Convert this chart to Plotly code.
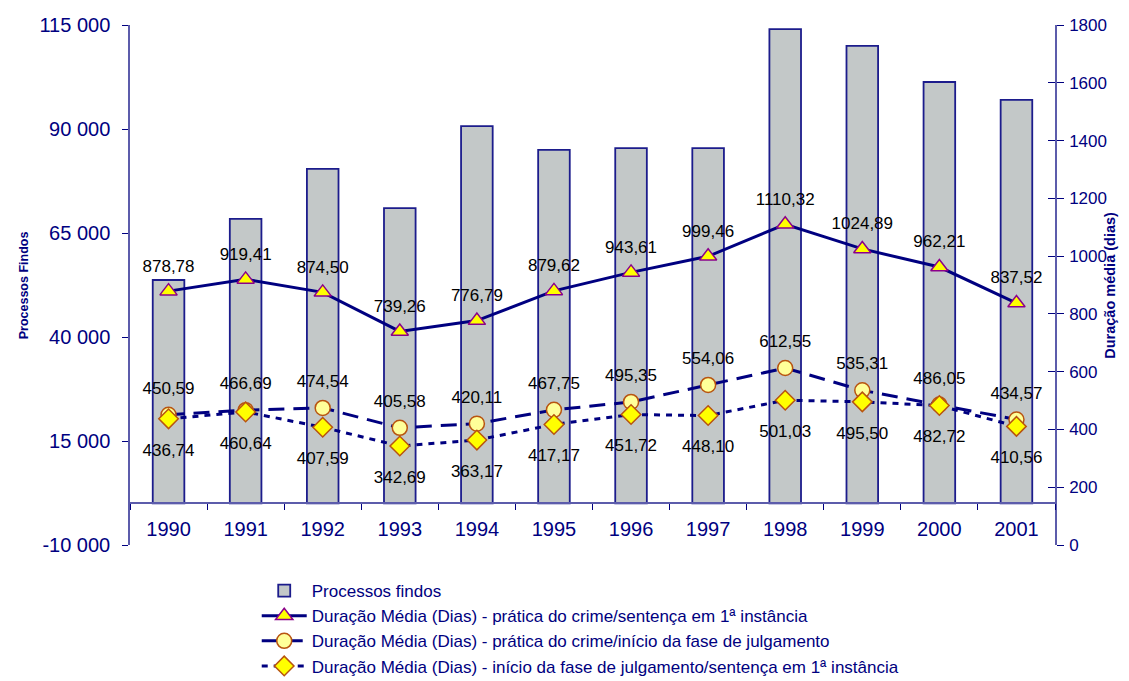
import plotly.graph_objects as go

# categorias
anos = ["1990", "1991", "1992", "1993", "1994", "1995",
        "1996", "1997", "1998", "1999", "2000", "2001"]

# processos findos (eixo esquerdo)
processos_findos = [53700, 68400, 80400, 71000, 90700, 85000,
                    85400, 85400, 114000, 110000, 101300, 97000]

# duração média em dias (eixo direito)
crime_sentenca = [878.78, 919.41, 874.50, 739.26, 776.79, 879.62,
                  943.61, 999.46, 1110.32, 1024.89, 962.21, 837.52]
crime_julgamento = [450.59, 466.69, 474.54, 405.58, 420.11, 467.75,
                    495.35, 554.06, 612.55, 535.31, 486.05, 434.57]
julgamento_sentenca = [436.74, 460.64, 407.59, 342.69, 363.17, 417.17,
                       451.72, 448.10, 501.03, 495.50, 482.72, 410.56]

left_ticks = [-10000, 15000, 40000, 65000, 90000, 115000]
left_ticktext = [f"{v:,}".replace(",", " ") for v in left_ticks]

NAVY = "#000080"
AXIS_LINE = "#5c5cab"
FONT = "Liberation Sans, Arial, sans-serif"

fig = go.Figure()

fig.add_trace(go.Bar(
    x=anos, y=processos_findos, name="Processos findos",
    width=0.41,
    marker=dict(color="#c3c8c8", line=dict(color="#1c1c8c", width=1.8)),
    yaxis="y",
))

series = [
    (crime_sentenca,
     "Duração Média (Dias) - prática do crime/sentença em 1ª instância",
     None, "triangle-up", "#ffff00", "#8b008b", "top center", 23),
    (crime_julgamento,
     "Duração Média (Dias) - prática do crime/início da fase de julgamento",
     "16px,9px", "circle", "#ffff99", "#b85410", "top center", 25),
    (julgamento_sentenca,
     "Duração Média (Dias) - início da fase de julgamento/sentença em 1ª instância",
     "6px,6px", "diamond", "#ffff00", "#b85410", "bottom center", 37),
]

for valores, nome, dash, simbolo, cor, borda, _, _ in series:
    fig.add_trace(go.Scatter(
        x=anos, y=valores, yaxis="y2", name=nome,
        mode="lines+markers",
        line=dict(color=NAVY, width=3, dash=dash),
        marker=dict(symbol=simbolo, size=15, color=cor,
                    line=dict(color=borda, width=1.5)),
    ))

# rótulos de dados (marcador invisível maior só para afastar o texto)
for valores, nome, _, _, _, _, posicao, afastamento in series:
    fig.add_trace(go.Scatter(
        x=anos, y=valores, yaxis="y2", mode="markers+text",
        marker=dict(size=afastamento, opacity=0),
        texttemplate="%{y:.2f}", textposition=posicao,
        textfont=dict(size=17, color="black"),
        cliponaxis=False, showlegend=False, hoverinfo="skip",
    ))

# a página tem margem de 8px, por isso as margens compensam esse deslocamento
fig.update_layout(
    width=1129, height=681,
    margin=dict(l=122, r=82, t=17, b=144, autoexpand=False),
    paper_bgcolor="white", plot_bgcolor="white",
    separators=", ",
    font=dict(family=FONT, color=NAVY),
    xaxis=dict(
        type="category", range=[-0.5, 11.5],
        anchor="free", position=0.08, automargin=False,
        showline=True, linecolor=AXIS_LINE, linewidth=1.5,
        ticks="outside", tickson="boundaries", ticklen=6, tickcolor=NAVY,
        tickfont=dict(size=20, color=NAVY), ticklabelstandoff=8,
        showgrid=False, zeroline=False,
    ),
    yaxis=dict(
        range=[-10000, 115000], tickvals=left_ticks, ticktext=left_ticktext,
        automargin=False,
        showline=True, linecolor=AXIS_LINE, linewidth=1.5,
        ticks="outside", ticklen=6, tickcolor=NAVY,
        tickfont=dict(size=20, color=NAVY), ticklabelstandoff=8,
        showgrid=False, zeroline=False,
    ),
    yaxis2=dict(
        range=[0, 1800], dtick=200, overlaying="y", side="right", anchor="x",
        automargin=False,
        showline=True, linecolor=AXIS_LINE, linewidth=1.5,
        ticks="outside", ticklen=7, tickcolor=NAVY,
        tickfont=dict(size=17, color=NAVY), ticklabelstandoff=2,
        showgrid=False, zeroline=False,
    ),
    yaxis3=dict(
        range=[0, 1800], dtick=200, overlaying="y", side="right", anchor="x",
        automargin=False,
        showline=False, showticklabels=False,
        ticks="inside", ticklen=7, tickcolor=NAVY,
        showgrid=False, zeroline=False,
    ),
    legend=dict(
        x=0.137, y=-0.054, xanchor="left", yanchor="top",
        font=dict(size=17, color=NAVY), itemwidth=45,
        bgcolor="rgba(0,0,0,0)", tracegroupgap=0,
    ),
    annotations=[
        dict(text="<b>Processos Findos</b>", textangle=-90,
             xref="paper", yref="paper", x=-0.124, y=0.5,
             showarrow=False, font=dict(size=12.5, color=NAVY)),
        dict(text="<b>Duração média (dias)</b>", textangle=-90,
             xref="paper", yref="paper", x=1.07, y=0.5,
             showarrow=False, font=dict(size=14.5, color=NAVY)),
    ],
)

# traço invisível para mostrar os ticks internos do eixo direito
fig.add_trace(go.Scatter(x=[anos[0]], y=[0], yaxis="y3", mode="markers",
                         marker=dict(opacity=0), showlegend=False,
                         hoverinfo="skip"))

fig.write_html("out.html")
